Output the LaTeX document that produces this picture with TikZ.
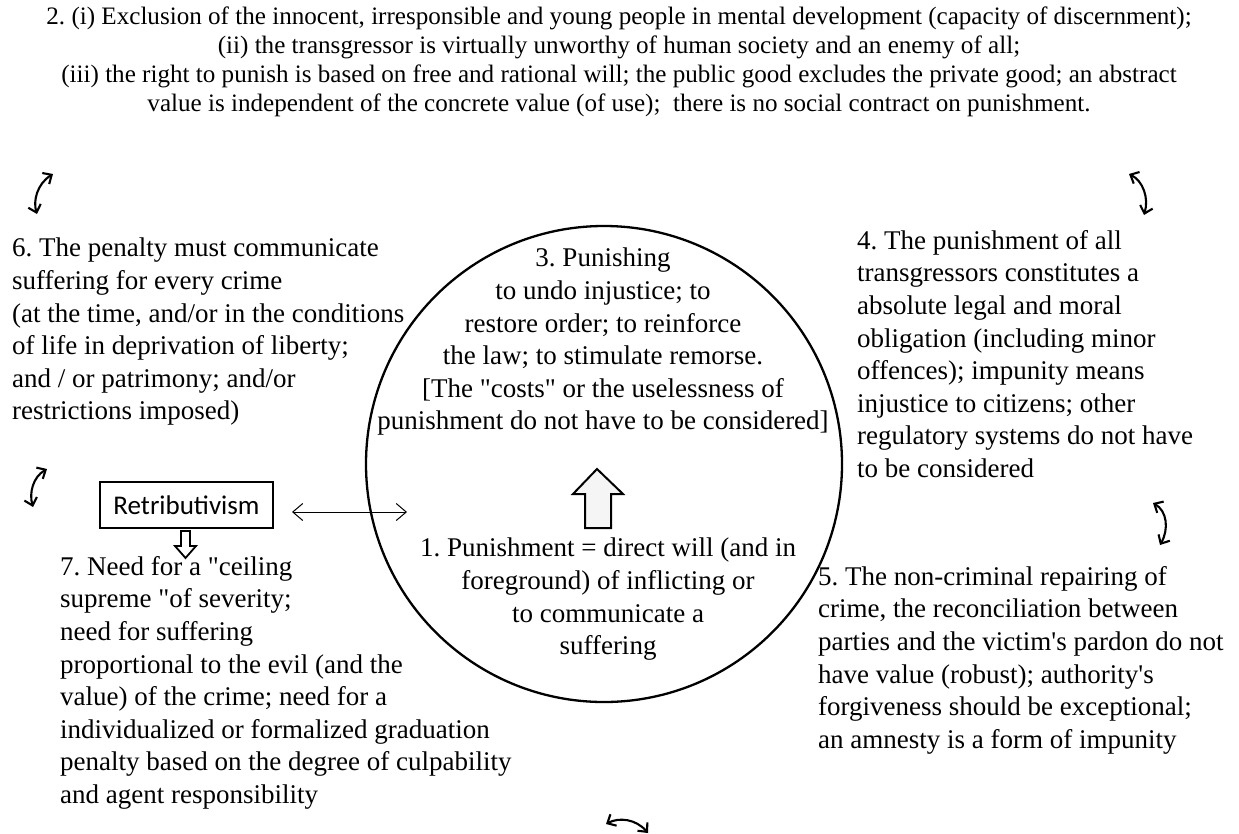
\documentclass[tikz,border=0pt]{standalone}
\usepackage{fontspec}
\setmainfont{Liberation Serif}[Ligatures=TeXOff]
\newfontfamily\calfont{Carlito}
\usetikzlibrary{arrows.meta}
\frenchspacing

\tikzset{
  body/.style={inner sep=0pt, font=\fontsize{27}{32.6}\selectfont},
  headtext/.style={inner sep=0pt, font=\fontsize{25.1}{29}\selectfont, align=center},
  cyc/.style={line width=2.1pt, line cap=round,
    {Straight Barb[length=7pt,width=13pt,line width=2.1pt]}-{Straight Barb[length=7pt,width=13pt,line width=2.1pt]}},
  link/.style={line width=1pt,
    {Straight Barb[length=10pt,width=17pt,line width=1pt]}-{Straight Barb[length=10pt,width=17pt,line width=1pt]}},
  blockarrow/.style={line width=2pt, line join=miter}
}

\begin{document}
\begin{tikzpicture}[x=1pt,y=-1pt]
\useasboundingbox (0,0) rectangle (1239,833);
\clip (0,0) rectangle (1239,833);

% heading
\node[headtext, anchor=north] (head) at (619,7) {2. (i) Exclusion of the innocent, irresponsible and young people in mental development (capacity of discernment);\\
(ii) the transgressor is virtually unworthy of human society and an enemy of all;\\
(iii) the right to punish is based on free and rational will; the public good excludes the private good; an abstract\\
value is independent of the concrete value (of use);\ \ there is no social contract on punishment.};

% central circle
\node[draw, circle, minimum size=476pt, line width=2.3pt, inner sep=0pt] (ring) at (604,464) {};

\node[body, align=center, anchor=north] (three) at (603,248) {3. Punishing\\
to undo injustice; to\\
restore order; to reinforce\\
the law; to stimulate remorse.\\
{[}The "costs" or the uselessness of\\
punishment do not have to be considered{]}};

\node[body, align=center, anchor=north] (one) at (608,538) {1. Punishment = direct will (and in\\
foreground) of inflicting or\\
to communicate a\\
suffering};

% block arrow from 1 to 3
\draw[blockarrow, fill=gray!8] (585,528) -- (611,528) -- (611,494) -- (623,494) -- (597,469)
  -- (573,494) -- (585,494) -- cycle;

% surrounding items
\node[body, align=left, anchor=north west] (six) at (12,238) {6. The penalty must communicate\\
suffering for every crime\\
(at the time, and/or in the conditions\\
of life in deprivation of liberty;\\
and / or patrimony; and/or\\
restrictions imposed)};

\node[body, align=left, anchor=north west] (four) at (857,230) {4. The punishment of all\\
transgressors constitutes a\\
absolute legal and moral\\
obligation (including minor\\
offences); impunity means\\
injustice to citizens; other\\
regulatory systems do not have\\
to be considered};

\node[body, align=left, anchor=north west] (five) at (818,566) {5. The non-criminal repairing of\\
crime, the reconciliation between\\
parties and the victim's pardon do not\\
have value (robust); authority's\\
forgiveness should be exceptional;\\
an amnesty is a form of impunity};

\node[body, align=left, anchor=north west] (seven) at (60,556) {7. Need for a "ceiling\\
supreme "of severity;\\
need for suffering\\
proportional to the evil (and the\\
value) of the crime; need for a\\
individualized or formalized graduation\\
penalty based on the degree of culpability\\
and agent responsibility};

% Retributivism box and its links
\node[draw, line width=1.2pt, inner sep=0pt, minimum width=173pt, minimum height=46pt,
  text height=19pt, text depth=0pt, font=\calfont\fontsize{27}{33}\selectfont] (retr) at (186.5,505) {Retributivism};

\coordinate (linkA) at (292,512);
\coordinate (linkB) at (407,512);
\draw[link] (linkA) -- (linkB);

\draw[line width=1.8pt, fill=white, line join=miter] (181,531) -- (190,531) -- (190,546) -- (196,546)
  -- (185.5,558) -- (175,546) -- (181,546) -- cycle;

% cycle arrows between the items
\coordinate (tlA) at (37,214);
\coordinate (tlB) at (53,174);
\draw[cyc] (tlA) .. controls (33,201) and (37,184) .. (tlB);

\coordinate (trA) at (1129,174);
\coordinate (trB) at (1144,215);
\draw[cyc] (trA) .. controls (1143,181) and (1149,198) .. (trB);

\coordinate (lmA) at (33,507);
\coordinate (lmB) at (47,469);
\draw[cyc] (lmA) .. controls (29,493) and (33,477) .. (lmB);

\coordinate (rmA) at (1153,503);
\coordinate (rmB) at (1160,545);
\draw[cyc] (rmA) .. controls (1167,511) and (1169,529) .. (rmB);

\coordinate (btA) at (606,824);
\coordinate (btB) at (648,833);
\draw[cyc] (btA) .. controls (619,817) and (636,819) .. (btB);
\end{tikzpicture}
\end{document}
